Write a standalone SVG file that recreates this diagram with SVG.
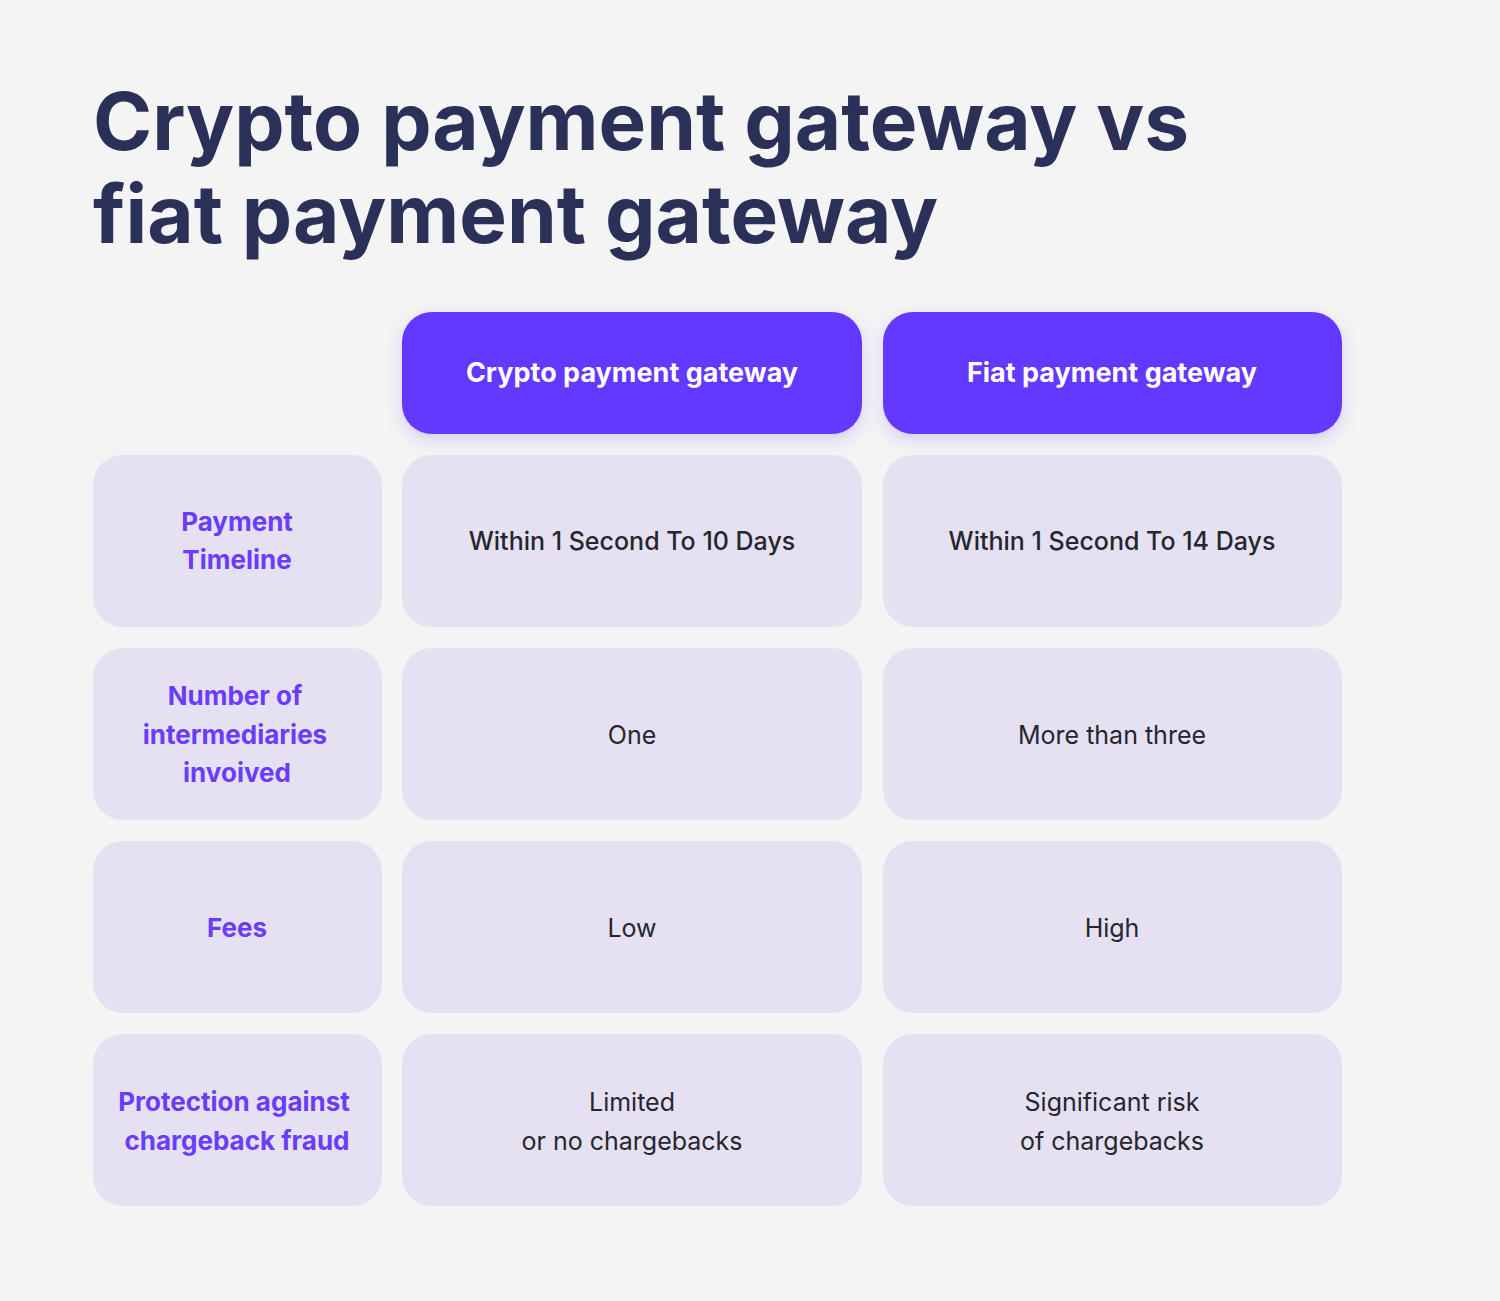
<svg xmlns="http://www.w3.org/2000/svg" width="1500" height="1301" viewBox="0 0 1500 1301">
<style>
.t{font-family:Inter,"Liberation Sans",sans-serif;font-weight:700;font-size:80px;fill:#2b3058}
.h{fill:#6438ff}
.ht{font-family:Inter,"Liberation Sans",sans-serif;font-weight:700;font-size:27px;fill:#fff;text-anchor:middle}
.c{fill:#e5e1f3}
.l{font-family:Inter,"Liberation Sans",sans-serif;font-weight:700;font-size:26px;fill:#6a3cff;text-anchor:middle}
.v{font-family:Inter,"Liberation Sans",sans-serif;font-weight:500;font-size:25px;fill:#26262e;text-anchor:middle}
.v2{font-family:Inter,"Liberation Sans",sans-serif;font-weight:400;font-size:25px;fill:#26262e;text-anchor:middle}
</style>
<defs><filter id="s" x="-10%" y="-20%" width="120%" height="150%"><feDropShadow dx="0" dy="6" stdDeviation="8" flood-color="#6438ff" flood-opacity="0.2"/></filter></defs>
<rect width="1500" height="1301" fill="#f4f4f4"/>
<g id="title"><text class="t" x="93" y="150">Crypto payment gateway vs</text><text class="t" x="93" y="243">fiat payment gateway</text></g>
<g id="h1"><rect class="h" filter="url(#s)" x="402" y="312" width="460" height="122" rx="30"/><text class="ht" x="632" y="382">Crypto payment gateway</text></g>
<g id="h2"><rect class="h" filter="url(#s)" x="883" y="312" width="459" height="122" rx="30"/><text class="ht" x="1112" y="382">Fiat payment gateway</text></g>
<g id="r1">
<rect class="c" x="93" y="455" width="289" height="172" rx="30"/><text class="l" x="237" y="531">Payment</text><text class="l" x="237" y="569">Timeline</text>
<rect class="c" x="402" y="455" width="460" height="172" rx="30"/><text class="v" x="632" y="550">Within 1 Second To 10 Days</text>
<rect class="c" x="883" y="455" width="459" height="172" rx="30"/><text class="v" x="1112" y="550">Within 1 Second To 14 Days</text></g>
<g id="r2">
<rect class="c" x="93" y="648" width="289" height="172" rx="30"/><text class="l" x="235" y="705">Number of</text><text class="l" x="235" y="744">intermediaries</text><text class="l" x="237" y="782">invoived</text>
<rect class="c" x="402" y="648" width="460" height="172" rx="30"/><text class="v2" x="632" y="744">One</text>
<rect class="c" x="883" y="648" width="459" height="172" rx="30"/><text class="v2" x="1112" y="744">More than three</text></g>
<g id="r3">
<rect class="c" x="93" y="841" width="289" height="172" rx="30"/><text class="l" x="237" y="937">Fees</text>
<rect class="c" x="402" y="841" width="460" height="172" rx="30"/><text class="v2" x="632" y="937">Low</text>
<rect class="c" x="883" y="841" width="459" height="172" rx="30"/><text class="v2" x="1112" y="937">High</text></g>
<g id="r4">
<rect class="c" x="93" y="1034" width="289" height="172" rx="30"/><text class="l" x="234" y="1111">Protection against</text><text class="l" x="237" y="1150">chargeback fraud</text>
<rect class="c" x="402" y="1034" width="460" height="172" rx="30"/><text class="v2" x="632" y="1111">Limited</text><text class="v2" x="632" y="1150">or no chargebacks</text>
<rect class="c" x="883" y="1034" width="459" height="172" rx="30"/><text class="v2" x="1112" y="1111">Significant risk</text><text class="v2" x="1112" y="1150">of chargebacks</text></g>
<g id="connectors"/>
</svg>
